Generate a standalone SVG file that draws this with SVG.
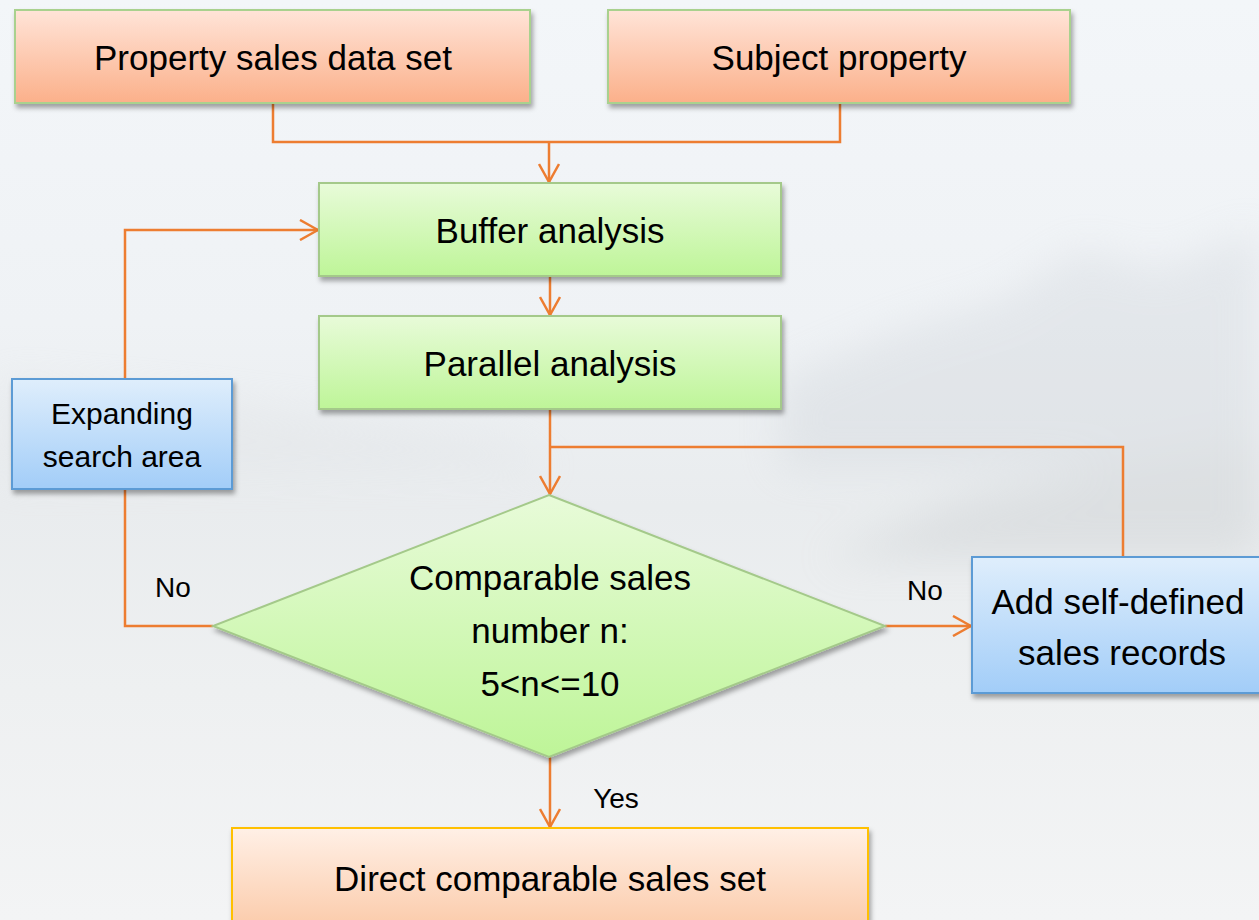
<svg xmlns="http://www.w3.org/2000/svg" width="1259" height="920" viewBox="0 0 1259 920">
  <defs>
    <style>
      .t { font-family: "Liberation Sans", Arial, sans-serif; fill: #000; text-anchor: middle; }
      .big { font-size: 35px; }
      .mid { font-size: 30px; }
      .sm { font-size: 28px; }
      .conn { fill: none; stroke: #ed7d31; stroke-width: 2.5; }
    </style>
    <linearGradient id="bg" x1="0" y1="0" x2="0" y2="1">
      <stop offset="0" stop-color="#f3f6f9"/>
      <stop offset="0.35" stop-color="#eff2f5"/>
      <stop offset="0.55" stop-color="#e9ecee"/>
      <stop offset="0.75" stop-color="#eef0f1"/>
      <stop offset="1" stop-color="#f3f4f5"/>
    </linearGradient>
    <linearGradient id="gOrange" x1="0" y1="0" x2="0" y2="1">
      <stop offset="0" stop-color="#ffe4d8"/>
      <stop offset="1" stop-color="#fbb08a"/>
    </linearGradient>
    <linearGradient id="gGreen" x1="0" y1="0" x2="0" y2="1">
      <stop offset="0" stop-color="#e8fbd9"/>
      <stop offset="1" stop-color="#bef598"/>
    </linearGradient>
    <linearGradient id="gBlue" x1="0" y1="0" x2="0" y2="1">
      <stop offset="0" stop-color="#dfeefc"/>
      <stop offset="1" stop-color="#a2cdf8"/>
    </linearGradient>
    <linearGradient id="gDirect" x1="0" y1="0" x2="0" y2="1">
      <stop offset="0" stop-color="#fff0e6"/>
      <stop offset="1" stop-color="#fbc7a4"/>
    </linearGradient>
    <filter id="shadow" x="-10%" y="-10%" width="125%" height="130%">
      <feDropShadow dx="2" dy="4" stdDeviation="2.5" flood-color="#000" flood-opacity="0.35"/>
    </filter>
    <filter id="blur" x="-20%" y="-50%" width="140%" height="200%">
      <feGaussianBlur stdDeviation="20"/>
    </filter>
    <marker id="arr" viewBox="0 0 20 22" refX="19" refY="11" markerWidth="20" markerHeight="22" orient="auto" markerUnits="userSpaceOnUse">
      <path d="M1,1 L19,11 L1,21" fill="none" stroke="#ed7d31" stroke-width="2.5"/>
    </marker>
  </defs>

  <g id="background">
    <rect x="0" y="0" width="1259" height="920" fill="url(#bg)"/>
    <g filter="url(#blur)" opacity="0.3">
      <path d="M780,380 L900,330 L1000,300 L1080,250 L1160,270 L1259,230 L1259,470 L780,470 Z" fill="#c9cfd5"/>
      <path d="M0,380 L200,400 L360,420 L500,440 L560,470 L0,480 Z" fill="#dcdfe2"/>
      <path d="M820,560 L960,500 L1100,470 L1259,440 L1259,560 Z" fill="#bfc3c6"/>
    </g>
  </g>

  <g id="connectors">
    <path class="conn" d="M273,103 V142 H840 V103"/>
    <path class="conn" d="M549,142 V182" marker-end="url(#arr)"/>
    <path class="conn" d="M550,276 V315" marker-end="url(#arr)"/>
    <path class="conn" d="M550,409 V494" marker-end="url(#arr)"/>
    <path class="conn" d="M1123,557 V447 H550"/>
    <path class="conn" d="M885,626 H971" marker-end="url(#arr)"/>
    <path class="conn" d="M213,626 H125 V230 H318" marker-end="url(#arr)"/>
    <path class="conn" d="M550,757 V827" marker-end="url(#arr)"/>
  </g>

  <g id="node-property-sales">
    <rect x="15" y="10" width="515" height="93" fill="url(#gOrange)" stroke="#a9d18e" stroke-width="2" filter="url(#shadow)"/>
    <text class="t big" x="273" y="70">Property sales data set</text>
  </g>

  <g id="node-subject-property">
    <rect x="608" y="10" width="462" height="93" fill="url(#gOrange)" stroke="#a9d18e" stroke-width="2" filter="url(#shadow)"/>
    <text class="t big" x="839" y="70">Subject property</text>
  </g>

  <g id="node-buffer">
    <rect x="319" y="183" width="462" height="93" fill="url(#gGreen)" stroke="#a4c98a" stroke-width="2" filter="url(#shadow)"/>
    <text class="t big" x="550" y="243">Buffer analysis</text>
  </g>

  <g id="node-parallel">
    <rect x="319" y="316" width="462" height="93" fill="url(#gGreen)" stroke="#a4c98a" stroke-width="2" filter="url(#shadow)"/>
    <text class="t big" x="550" y="376">Parallel analysis</text>
  </g>

  <g id="node-expanding">
    <rect x="12" y="379" width="220" height="110" fill="url(#gBlue)" stroke="#5b9bd5" stroke-width="2" filter="url(#shadow)"/>
    <text class="t mid" x="122" y="424">Expanding</text>
    <text class="t mid" x="122" y="467">search area</text>
  </g>

  <g id="node-decision">
    <polygon points="549,495 885,626 549,757 213,626" fill="url(#gGreen)" stroke="#a4c98a" stroke-width="2" filter="url(#shadow)"/>
    <text class="t big" x="550" y="590">Comparable sales</text>
    <text class="t big" x="550" y="643">number n:</text>
    <text class="t big" x="550" y="696">5&lt;n&lt;=10</text>
  </g>

  <g id="node-add-records">
    <rect x="972" y="557" width="300" height="136" fill="url(#gBlue)" stroke="#5b9bd5" stroke-width="2" filter="url(#shadow)"/>
    <text class="t big" x="1118" y="614">Add self-defined</text>
    <text class="t big" x="1122" y="665">sales records</text>
  </g>

  <g id="node-direct">
    <rect x="232" y="828" width="636" height="110" fill="url(#gDirect)" stroke="#ffc000" stroke-width="2" filter="url(#shadow)"/>
    <text class="t big" x="550" y="891">Direct comparable sales set</text>
  </g>

  <g id="labels">
    <text class="t sm" x="173" y="597">No</text>
    <text class="t sm" x="925" y="600">No</text>
    <text class="t sm" x="616" y="808">Yes</text>
  </g>
</svg>
